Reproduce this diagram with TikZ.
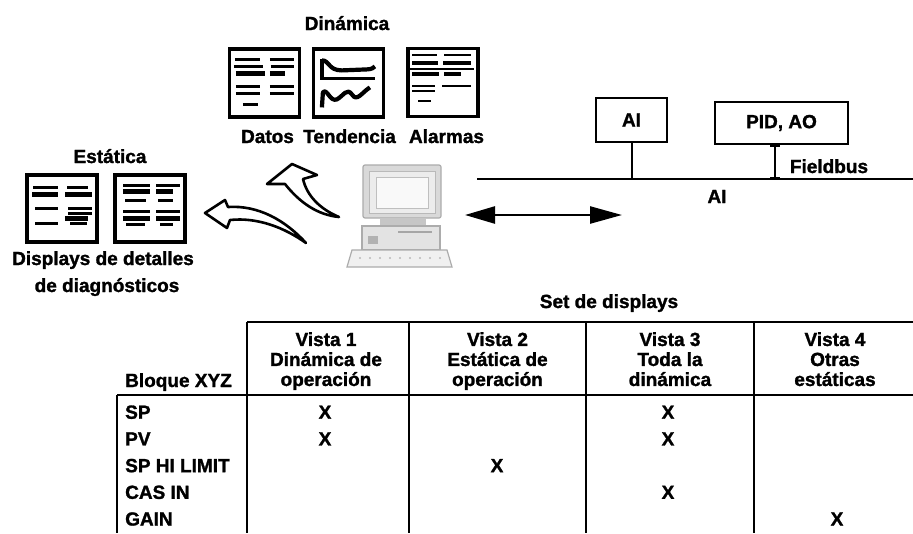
\documentclass[tikz,border=0pt]{standalone}
\usepackage{fontspec}
\setmainfont{Liberation Sans}[BoldFeatures={FakeBold=1.4}]
\usetikzlibrary{
    arrows.meta,
    positioning,
    calc
}
\tikzstyle{txt} = [
    font=\bfseries\fontsize{19}{20}\selectfont,
    inner sep=0pt
]
\tikzstyle{doc} = [
    rectangle,
    draw=black,
    line width=3.2pt,
    fill=white,
    minimum width=70pt,
    minimum height=68pt,
    inner sep=0pt
]
\tikzstyle{bar} = [line width=2.4pt]
\tikzstyle{fatbar} = [line width=4.2pt]
\tikzstyle{block} = [
    rectangle,
    draw=black,
    line width=2.5pt,
    txt
]
\tikzstyle{bus} = [line width=2pt]
\tikzstyle{grid} = [line width=2.6pt]
\tikzstyle{curly} = [
    draw=black,
    fill=white,
    line width=2.6pt,
    line join=round
]
\tikzstyle{head} = [txt, align=center, anchor=north]

\begin{document}
\begin{tikzpicture}[x=1pt, y=-1pt]
    \useasboundingbox (0,0) rectangle (913,533);
    \fill[white] (0,0) rectangle (913,533);

    % Dynamic displays
    \node[txt, anchor=base] (dinamica) at (347,30) {Dinámica};
    \node[doc] (datos) at (264.5,83) {};
    \node[doc] (tendencia) at (348.5,83) {};
    \node[doc] (alarmas) at (443,82.5) {};
    \node[txt, anchor=base] (datoslbl) at (267.5,143) {Datos};
    \node[txt, anchor=base] (tendlbl) at (349.5,143) {Tendencia};
    \node[txt, anchor=base] (alarmlbl) at (446.5,143) {Alarmas};

    \begin{scope}[shift={(datos.north west)}]
        \foreach \y/\a/\b in {12/7/32, 12/42/66, 19/6/35, 19/43/66, 39/8/32,
                              39/42/66, 46/8/32, 46/42/66, 57/15/30}
            \draw[bar] (\a,\y) -- (\b,\y);
        \foreach \y/\a/\b in {26/8/37, 26/42/57}
            \draw[fatbar] (\a,\y) -- (\b,\y);
    \end{scope}

    \begin{scope}[shift={(tendencia.north west)}]
        \draw[fatbar] (10,12) -- (10,33);
        \draw[fatbar] (10,13) .. controls (18,13) and (16,23) .. (30,23)
            -- (55,22) .. controls (60,22) and (62,20) .. (63,19);
        \draw[bar] (10,31) -- (63,31);
        \draw[fatbar, line join=round] (10,60) -- (11,45)
            .. controls (15,40) and (18,55) .. (25,52)
            .. controls (32,48) and (35,40) .. (40,47)
            .. controls (45,55) and (50,45) .. (58,40);
    \end{scope}

    \begin{scope}[shift={(alarmas.north west)}]
        \foreach \y/\a/\b in {8/6/31, 8/38/65, 22/2/68, 39/6/29, 39/36/65,
                              44/6/29, 54/12/25}
            \draw[bar] (\a,\y) -- (\b,\y);
        \foreach \y/\a/\b in {16/6/32, 16/37/65, 27/6/33, 27/38/55}
            \draw[fatbar] (\a,\y) -- (\b,\y);
    \end{scope}

    % Static displays
    \node[txt, anchor=base] (estatica) at (110,163) {Estática};
    \node[doc, minimum height=67pt] (est1) at (62,208.5) {};
    \node[doc, minimum height=67pt] (est2) at (150,208.5) {};
    \node[txt, anchor=base] (detalles) at (103,265) {Displays de detalles};
    \node[txt, anchor=base] (diagnos) at (107,292) {de diagnósticos};

    \begin{scope}[shift={(est1.north west)}]
        \foreach \y/\a/\b in {14/8/33, 14/42/63, 35/10/33, 35/43/67, 40/43/67,
                              50/10/33, 50/45/62}
            \draw[bar] (\a,\y) -- (\b,\y);
        \foreach \y/\a/\b in {21/7/33, 21/40/67, 45/40/63}
            \draw[fatbar] (\a,\y) -- (\b,\y);
    \end{scope}

    \begin{scope}[shift={(est2.north west)}]
        \foreach \y/\a/\b in {12/10/37, 12/43/67, 27/12/33, 27/45/60, 38/10/37,
                              38/43/67, 51/13/32, 51/47/60}
            \draw[bar] (\a,\y) -- (\b,\y);
        \foreach \y/\a/\b in {18/10/37, 18/43/60, 45/10/37, 45/43/67}
            \draw[fatbar] (\a,\y) -- (\b,\y);
    \end{scope}

    % Hollow curved arrows
    \filldraw[curly] (205,213) -- (225,200) -- (228,207)
        .. controls (258,205) and (285,220) .. (306,243)
        .. controls (285,228) and (258,217) .. (230,220)
        -- (227,228) -- cycle;
    \filldraw[curly] (292,164) -- (317,175) -- (303,179)
        .. controls (307,196) and (320,209) .. (339,217)
        .. controls (318,215) and (300,203) .. (285,184)
        -- (267,184) -- cycle;

    % Computer
    \draw[draw=gray!65, fill=gray!30, line width=1.2pt, rounded corners=2pt]
        (363,165) rectangle (441,218);
    \draw[draw=gray!55, fill=gray!15, line width=0.8pt] (369,171) rectangle (435,213);
    \draw[draw=gray!50, fill=gray!5] (376,177) rectangle (428,208);
    \fill[gray!45] (380,218) rectangle (426,226);
    \draw[draw=gray!65, fill=gray!22, line width=1.2pt] (362,226) rectangle (440,250);
    \draw[gray!70, line width=1.5pt] (398,232) -- (432,232);
    \fill[gray!60] (368,236) rectangle (378,244);
    \draw[draw=gray!65, fill=gray!12, line width=1.2pt]
        (352,250) -- (447,250) -- (452,267) -- (347,267) -- cycle;
    \foreach \x in {360,370,...,440}
        \fill[gray!55] (\x,258) circle (1.2);

    % Fieldbus
    \node[block, minimum width=71pt, minimum height=44pt] (ai) at (631.5,120) {AI};
    \node[block, minimum width=133pt, minimum height=42pt] (pid) at (781.5,123) {PID, AO};
    \coordinate (busL) at (477,179);
    \coordinate (busR) at (913,179);
    \draw[bus] (busL) -- (busR);
    \draw[bus] (ai.south) -- (ai.south |- busL);
    \draw[bus, {Bar[width=10pt]}-{Bar[width=10pt]}]
        ([xshift=-6.5pt]pid.south) -- ([xshift=-6.5pt]pid.south |- busL);
    \node[txt, anchor=base] (fieldbus) at (829,173) {Fieldbus};
    \node[txt, anchor=base] (busai) at (717,203) {AI};

    % Link
    \coordinate (pcR) at (465,215);
    \coordinate (netL) at (622,215);
    \draw[line width=2.5pt, {Triangle[length=30pt,width=17pt]}-{Triangle[length=32pt,width=17pt]}]
        (pcR) -- (netL);

    % Table
    \node[txt, anchor=base] (setlbl) at (609,308) {Set de displays};
    \draw[grid] (247,322) -- (913,322);
    \draw[grid] (117,395) -- (913,395);
    \foreach \x in {247,409,586,754}
        \draw[grid] (\x,322) -- (\x,533);
    \draw[grid] (117,395) -- (117,533);

    \node[txt, anchor=base west] (bloque) at (125,387) {Bloque XYZ};
    \node[head] (vista1) at (326,332) {Vista 1\\Dinámica de\\operación};
    \node[head] (vista2) at (497.5,332) {Vista 2\\Estática de\\operación};
    \node[head] (vista3) at (670,332) {Vista 3\\Toda la\\dinámica};
    \node[head] (vista4) at (835,332) {Vista 4\\Otras\\estáticas};

    \foreach \t [count=\i] in {SP, PV, SP HI LIMIT, CAS IN, GAIN}
        \node[txt, anchor=west] (row\i) at (125,385.5+26.7*\i) {\t};
    \foreach \x/\r in {325/1, 325/2, 497/3, 668/1, 668/2, 668/4, 837/5}
        \node[txt] (cross-\x-\r) at (\x,385.5+26.7*\r) {X};
\end{tikzpicture}
\end{document}
